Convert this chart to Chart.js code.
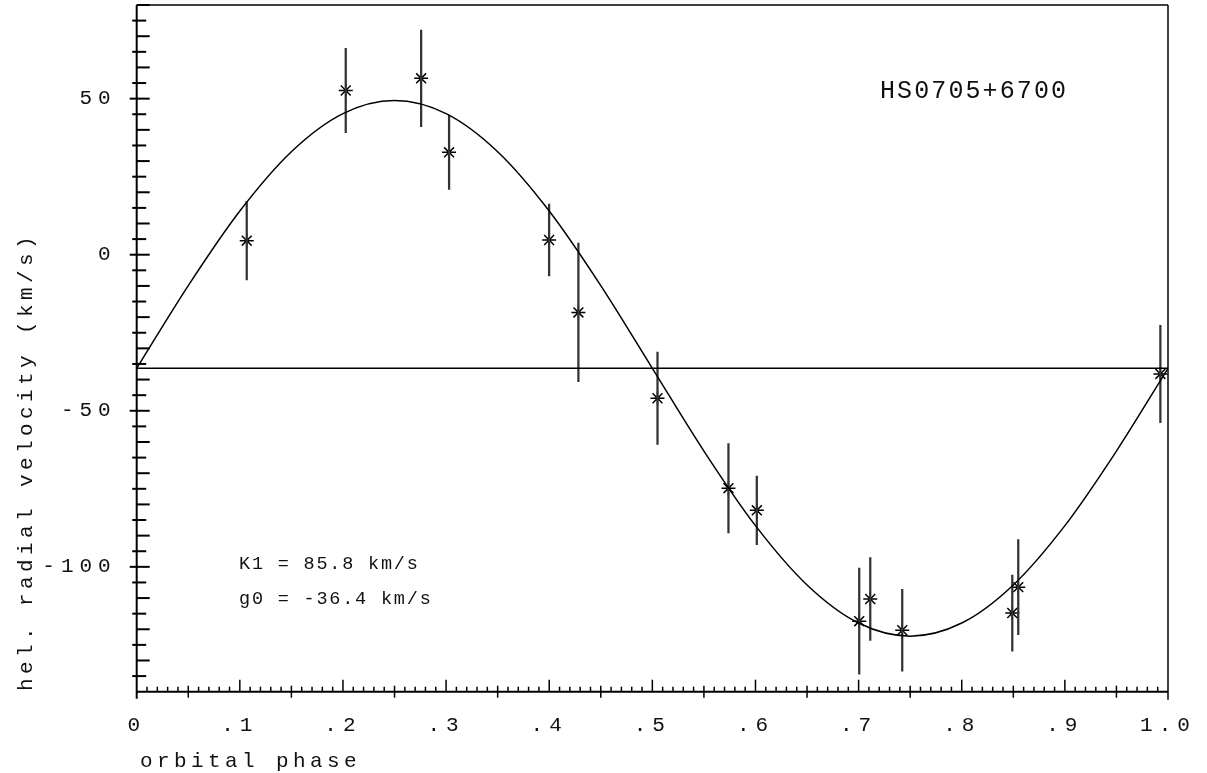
<!DOCTYPE html>
<html>
<head>
<meta charset="utf-8">
<title>HS0705+6700 radial velocity</title>
<script src="https://cdn.jsdelivr.net/npm/chart.js@4/dist/chart.umd.min.js"></script>
<style>
  html, body { margin: 0; padding: 0; background: #fff; }
  #wrap { width: 1207px; height: 773px; position: relative; }
</style>
</head>
<body>
<div id="wrap"><canvas id="rvChart"></canvas></div>
<script>
// measured radial velocities
const phase = [0.1067, 0.2027, 0.2758, 0.3029, 0.3999, 0.4283, 0.5050, 0.5738,
  0.6013, 0.7006, 0.7113, 0.7423, 0.8490, 0.8548, 0.9926];
const velocity = [4.5, 52.6, 56.5, 32.8, 4.7, -18.5, -46.0, -74.8,
  -81.9, -117.4, -110.3, -120.3, -114.8, -106.5, -38.2];
const velocityErr = [12.6, 13.5, 15.5, 11.9, 11.5, 22.2, 14.8, 14.3,
  11.0, 17.0, 13.3, 13.1, 12.2, 15.2, 15.6];

// fitted curve
const curvePhase = [0, 0.05, 0.1, 0.15, 0.2, 0.25, 0.3, 0.35, 0.4, 0.45, 0.5,
  0.55, 0.6, 0.65, 0.7, 0.75, 0.8, 0.85, 0.9, 0.95, 1.0];
const curveVelocity = [-36.4, -9.9, 14.0, 33.0, 45.2, 49.4, 45.2, 33.0, 14.0, -9.9, -36.4,
  -62.9, -86.8, -105.8, -118.0, -122.2, -118.0, -105.8, -86.8, -62.9, -36.4];

const gamma = -36.4;
const xTickValues = [0, 0.1, 0.2, 0.3, 0.4, 0.5, 0.6, 0.7, 0.8, 0.9, 1.0];
const xTickLabels = ['0', '.1', '.2', '.3', '.4', '.5', '.6', '.7', '.8', '.9', '1.0'];
const yTickValues = [-100, -50, 0, 50];
const yTickLabels = ['-100', '-50', '0', '50'];

const FONT = '"Liberation Mono", "DejaVu Sans Mono", monospace';

function seg(ctx, x1, y1, x2, y2) {
  ctx.beginPath();
  ctx.moveTo(x1, y1);
  ctx.lineTo(x2, y2);
  ctx.stroke();
}

// frame, inward ticks and the texts in the old plotting style
const framePlugin = {
  id: 'frame',
  beforeDraw(chart) {
    chart.ctx.letterSpacing = '6px';
  },
  beforeDatasetsDraw(chart) {
    chart.ctx.letterSpacing = '0px';
  },
  afterDraw(chart) {
    const { ctx, chartArea: a, scales: { x, y } } = chart;
    ctx.save();
    ctx.strokeStyle = '#000';
    ctx.lineWidth = 2;
    seg(ctx, a.left, a.top, a.left, a.bottom + 7);
    seg(ctx, a.left, a.bottom, a.right, a.bottom);
    ctx.lineWidth = 1.5;
    seg(ctx, a.left, a.top, a.right, a.top);
    seg(ctx, a.right, a.top, a.right, a.bottom + 8);

    ctx.lineWidth = 2;
    for (let i = -27; i <= 16; i++) {
      const v = i * 5;
      const py = y.getPixelForValue(v);
      if (v % 50 === 0) seg(ctx, a.left - 7, py, a.left + 13, py);
      else if (v % 10 === 0) seg(ctx, a.left, py, a.left + 13, py);
      else seg(ctx, a.left - 4.5, py, a.left + 9.5, py);
    }
    ctx.lineWidth = 1.5;
    for (let i = 1; i < 100; i++) {
      const px = x.getPixelForValue(i / 100);
      if (i % 10 === 0) seg(ctx, px, a.bottom, px, a.bottom - 12);
      else if (i % 5 === 0) seg(ctx, px, a.bottom + 6, px, a.bottom - 6);
      else seg(ctx, px, a.bottom, px, a.bottom - 5);
    }

    ctx.fillStyle = '#111';
    ctx.textAlign = 'left';
    ctx.textBaseline = 'alphabetic';
    ctx.font = '21px ' + FONT;
    ctx.letterSpacing = '4.4px';
    ctx.fillText('orbital phase', 140, 767);
    ctx.save();
    ctx.translate(31.5, 691);
    ctx.rotate(-Math.PI / 2);
    ctx.fillText('hel. radial velocity (km/s)', 0, 0);
    ctx.restore();

    ctx.font = '25px ' + FONT;
    ctx.letterSpacing = '2.1px';
    ctx.fillText('HS0705+6700', 880, 98);

    ctx.font = '18.5px ' + FONT;
    ctx.letterSpacing = '1.8px';
    ctx.fillText('K1 = 85.8 km/s', 239, 569);
    ctx.fillText('g0 = -36.4 km/s', 239, 604);
    ctx.restore();
  }
};

const ctx = document.getElementById('rvChart').getContext('2d');

new Chart(ctx, {
  type: 'scatter',
  data: {
    datasets: [
      {
        type: 'line',
        data: curvePhase.map((p, i) => ({ x: p, y: curveVelocity[i] })),
        borderColor: '#000',
        borderWidth: 1.5,
        pointRadius: 0,
        cubicInterpolationMode: 'monotone',
        fill: false
      },
      {
        type: 'line',
        data: [{ x: 0, y: gamma }, { x: 1, y: gamma }],
        borderColor: '#000',
        borderWidth: 1.5,
        pointRadius: 0,
        fill: false
      },
      {
        type: 'bar',
        data: phase.map((p, i) => ({ x: p, y: [velocity[i] - velocityErr[i], velocity[i] + velocityErr[i]] })),
        backgroundColor: '#333',
        borderWidth: 0,
        barThickness: 1.6,
        grouped: false
      },
      {
        type: 'scatter',
        data: phase.map((p, i) => ({ x: p, y: velocity[i] })),
        pointStyle: 'star',
        pointRadius: 7,
        borderColor: '#000',
        borderWidth: 1.5,
        backgroundColor: '#000'
      }
    ]
  },
  options: {
    responsive: true,
    maintainAspectRatio: false,
    animation: false,
    layout: { autoPadding: false, padding: { left: 0, top: 5, right: 39, bottom: 0 } },
    plugins: {
      legend: { display: false },
      tooltip: { enabled: false }
    },
    scales: {
      x: {
        type: 'linear',
        min: 0,
        max: 1,
        offset: false,
        grid: { display: false, drawTicks: false },
        border: { display: false },
        afterBuildTicks: s => { s.ticks = xTickValues.map(v => ({ value: v })); },
        afterFit: s => { s.height = 773 - 691.7; s.paddingLeft = 0; s.paddingRight = 0; },
        ticks: {
          padding: 21,
          maxRotation: 0,
          autoSkip: false,
          color: '#111',
          font: { family: FONT, size: 21 },
          callback: (v, i) => xTickLabels[i]
        }
      },
      y: {
        type: 'linear',
        min: -140,
        max: 80,
        grid: { display: false, drawTicks: false },
        border: { display: false },
        afterBuildTicks: s => { s.ticks = yTickValues.map(v => ({ value: v })); },
        afterFit: s => { s.width = 136.7; s.paddingTop = 0; s.paddingBottom = 0; },
        ticks: {
          padding: 20,
          autoSkip: false,
          color: '#111',
          font: { family: FONT, size: 21 },
          callback: (v, i) => yTickLabels[i]
        }
      }
    }
  },
  plugins: [framePlugin]
});
</script>
</body>
</html>
